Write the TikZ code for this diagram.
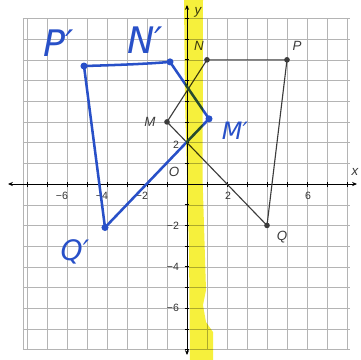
\documentclass[tikz,border=0pt]{standalone}
\usepackage{fontspec}
\setmainfont{Liberation Sans}
\newfontfamily\handfont{DejaVu Sans}
\usetikzlibrary{arrows.meta}
\definecolor{penblue}{RGB}{40,80,200}
\definecolor{hilite}{RGB}{246,240,60}
\definecolor{gridgray}{RGB}{180,180,180}
\definecolor{inkgray}{RGB}{60,60,60}
\begin{document}
\begin{tikzpicture}[x=1cm,y=1.035cm,
  gridline/.style={gridgray,line width=0.6pt},
  axisline/.style={black,line width=1.4pt,{Stealth[length=7pt,width=6pt]}-{Stealth[length=7pt,width=6pt]}},
  origline/.style={inkgray,line width=1.6pt},
  imgline/.style={penblue,line width=3.6pt,line cap=round,line join=round},
  origpt/.style={circle,fill=inkgray,inner sep=0pt,minimum size=8pt},
  imgpt/.style={circle,fill=penblue,inner sep=0pt,minimum size=10pt},
  ticklab/.style={font=\fontsize{15}{15}\selectfont,text=black!80,inner sep=0pt},
  ptlab/.style={font=\fontsize{19}{19}\selectfont\itshape,text=inkgray,inner sep=0pt},
  handlab/.style={font=\fontsize{52}{52}\selectfont\handfont\itshape,text=penblue,inner sep=0pt}]
\useasboundingbox (-9.35,-8.5) rectangle (8.7,8.89);
\fill[white] (-9.35,-8.5) rectangle (8.7,8.89);
% grid
\foreach \gx in {-8,...,8} \draw[gridline] (\gx,-8) -- (\gx,8);
\draw[gridline] (-8.2,-8) -- (-8.2,8);
\foreach \gy in {-8,...,8} \draw[gridline] (-8.2,\gy) -- (8.15,\gy);
% axes
\coordinate (xl) at (-8.95,0); \coordinate (xr) at (8.5,0);
\coordinate (yb) at (0,-8.26); \coordinate (yt) at (0,8.65);
\draw[axisline] (xl) -- (xr);
\draw[axisline] (yb) -- (yt);
\foreach \t in {-8,...,8} \draw[black,line width=1pt] (\t,-0.12) -- (\t,0.12);
\foreach \t in {-8,...,8} \draw[black,line width=1pt] (-0.12,\t) -- (0.12,\t);
\node[ptlab] (xlab) at (8.4,0.58) {x};
\node[ptlab] (ylab) at (0.55,8.3) {y};
% tick labels
\node[ticklab] (xm6) at (-6.25,-0.55) {−6};
\node[ticklab] (xm4) at (-4.25,-0.55) {−4};
\node[ticklab] (xm2) at (-2.25,-0.55) {−2};
\node[ticklab] (xp2) at (2.05,-0.55) {2};
\node[ticklab] (xp6) at (6.05,-0.55) {6};
\node[ticklab] (yp2) at (-0.55,1.9) {2};
\node[ticklab] (ym2) at (-0.7,-2.0) {−2};
\node[ticklab] (ym4) at (-0.7,-4.0) {−4};
\node[ticklab] (ym6) at (-0.7,-6.0) {−6};
\node[ptlab] (olab) at (-0.65,0.58) {O};
% original figure
\node[origpt] (M) at (-1,3) {};
\node[origpt] (N) at (1,6) {};
\node[origpt] (P) at (5,6) {};
\node[origpt] (Q) at (4,-2) {};
\draw[origline] (M.center) -- (N.center) -- (P.center) -- (Q.center) -- (M.center);
\node[ptlab] (Mlab) at (-1.85,3.0) {M};
\node[ptlab] (Nlab) at (0.6,6.65) {N};
\node[ptlab] (Plab) at (5.5,6.65) {P};
\node[ptlab] (Qlab) at (4.75,-2.55) {Q};
% image (hand drawn)
\node[imgpt] (P') at (-5.15,5.7) {};
\node[imgpt] (N') at (-0.85,5.9) {};
\node[imgpt] (M') at (1.1,3.15) {};
\node[imgpt] (Q') at (-4.1,-2.1) {};
\draw[imgline] (P'.center) .. controls (-3.5,5.75) and (-2,5.8) .. (N'.center) -- (M'.center) -- (Q'.center) -- (P'.center);
\node[handlab] (P'lab) at (-6.4,6.8) {P′};
\node[handlab] (N'lab) at (-2.1,6.95) {N′};
\node[handlab,font=\fontsize{34}{34}\selectfont\handfont\itshape] (M'lab) at (2.4,2.55) {M′};
\node[handlab,font=\fontsize{40}{40}\selectfont\handfont\itshape] (Q'lab) at (-5.6,-3.3) {Q′};
% highlighter
\begin{scope}[blend mode=multiply]
\fill[hilite] (-0.15,8.89) -- (0.8,8.89) -- (0.78,0.19) -- (0.95,-5.12) -- (0.8,-5.85) -- (0.95,-6.67) -- (1.3,-7.15) -- (1.3,-8.5) -- (0.15,-8.5) -- (0.1,-3.19) -- (-0.1,4.06) -- cycle;
\end{scope}
\end{tikzpicture}
\end{document}
